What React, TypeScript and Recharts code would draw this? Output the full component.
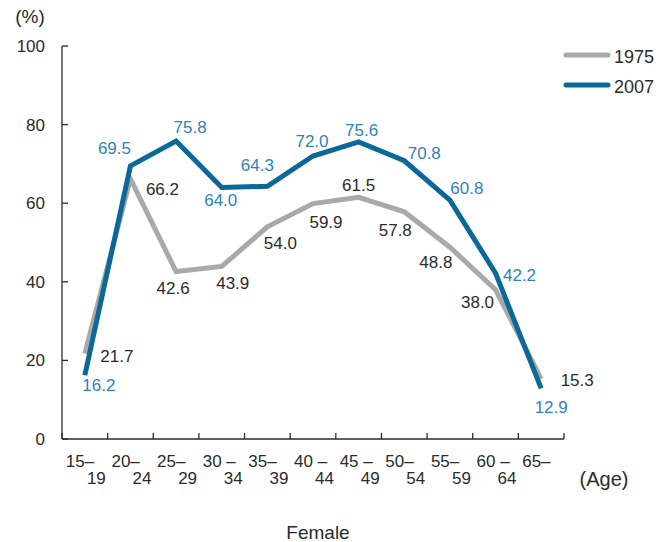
import { Customized, LabelList, Line, LineChart, XAxis, YAxis } from "recharts";

const ageGroups = [
  ["15–", "19"],
  ["20–", "24"],
  ["25–", "29"],
  ["30 –", "34"],
  ["35–", "39"],
  ["40 –", "44"],
  ["45 –", "49"],
  ["50–", "54"],
  ["55–", "59"],
  ["60 –", "64"],
  ["65–", ""],
];
const rate1975 = [21.7, 66.2, 42.6, 43.9, 54.0, 59.9, 61.5, 57.8, 48.8, 38.0, 15.3];
const rate2007 = [16.2, 69.5, 75.8, 64.0, 64.3, 72.0, 75.6, 70.8, 60.8, 42.2, 12.9];
const yTicks = [0, 20, 40, 60, 80, 100];
const xBounds = [0, 1, 2, 3, 4, 5, 6, 7, 8, 9, 10, 11];
const seriesNames = ["1975", "2007"];

// label nudges (px) so the numbers sit where the original put them
const off1975 = [[32, 2], [32, 10], [-3, 16], [11, 17], [13, 16], [13, 18], [0, -12], [-9, 18], [-14, 15], [-18, 12], [36, 1]];
const off2007 = [[14, 10], [-16, -18], [14, -14], [-1, 13], [-10, -21], [-1, -15], [3, -12], [20, -8], [17, -12], [24, 2], [10, 19]];

const data = rate1975.map((v, i) => ({ x: i + 0.5, y1975: v, y2007: rate2007[i] }));

const FONT = "'Liberation Sans', Arial, sans-serif";
const GRAY = "#a9a9ab";
const BLUE = "#0b6898";
const BLUE_TXT = "#2f82bb";
const INK = "#2b2b2b";
const PLOT_LEFT = 62;
const PLOT_RIGHT = 564;
const STEP = (PLOT_RIGHT - PLOT_LEFT) / ageGroups.length;

function XTick({ x, y, payload }: any) {
  const k = payload.value;
  const grp = ageGroups[k];
  const cx = x + STEP / 2;
  return (
    <g>
      <line x1={x} x2={x} y1={y} y2={y - 6} stroke={INK} strokeWidth={1.3} />
      {grp && (
        <text fontFamily={FONT} fontSize={17} fill={INK}>
          <tspan x={cx - 19} y={y + 28} textAnchor="start">{grp[0]}</tspan>
          <tspan x={cx + 21} y={y + 45} textAnchor="end">{grp[1]}</tspan>
        </text>
      )}
    </g>
  );
}

function YTick({ x, y, payload }: any) {
  return (
    <g>
      <line x1={x} x2={x + 6} y1={y} y2={y} stroke={INK} strokeWidth={1.3} />
      <text x={x - 17} y={y + 6} textAnchor="end" fontFamily={FONT} fontSize={17} fill={INK}>
        {payload.value}
      </text>
    </g>
  );
}

const makeLabel = (offs: number[][], color: string) => (p: any) => {
  const [dx, dy] = offs[p.index];
  return (
    <text x={p.x + dx} y={p.y + dy + 6} textAnchor="middle" fontFamily={FONT} fontSize={17} fill={color}>
      {Number(p.value).toFixed(1)}
    </text>
  );
};

function Extras() {
  const colors = [GRAY, BLUE];
  return (
    <g fontFamily={FONT} fill={INK}>
      <text x={30} y={23} textAnchor="middle" fontSize={19}>(%)</text>
      <text x={604} y={486} textAnchor="middle" fontSize={20}>(Age)</text>
      <text x={318} y={539} textAnchor="middle" fontSize={19}>Female</text>
      {seriesNames.map((name, i) => (
        <g key={name}>
          <line x1={566} x2={608} y1={55 + i * 30} y2={55 + i * 30} stroke={colors[i]} strokeWidth={5} strokeLinecap="round" />
          <text x={614} y={63 + i * 30} fontSize={18}>{name}</text>
        </g>
      ))}
    </g>
  );
}

export default function App() {
  return (
    <div style={{ position: "absolute", left: 0, top: 0, background: "#fff" }}>
      <LineChart width={668} height={542} data={data} margin={{ top: 46, right: 104, left: 0, bottom: 0 }}>
        <XAxis
          dataKey="x"
          type="number"
          domain={[0, 11]}
          ticks={xBounds}
          interval={0}
          height={103}
          tickSize={0}
          tickMargin={0}
          stroke={INK}
          strokeWidth={1.3}
          tick={<XTick />}
        />
        <YAxis
          domain={[0, 100]}
          ticks={yTicks}
          width={62}
          tickSize={0}
          tickMargin={0}
          stroke={INK}
          strokeWidth={1.3}
          tick={<YTick />}
        />
        <Line dataKey="y1975" name="1975" stroke={GRAY} strokeWidth={5} dot={false} isAnimationActive={false}>
          <LabelList dataKey="y1975" content={makeLabel(off1975, INK)} />
        </Line>
        <Line dataKey="y2007" name="2007" stroke={BLUE} strokeWidth={5} dot={false} isAnimationActive={false}>
          <LabelList dataKey="y2007" content={makeLabel(off2007, BLUE_TXT)} />
        </Line>
        <Customized component={Extras} />
      </LineChart>
    </div>
  );
}
